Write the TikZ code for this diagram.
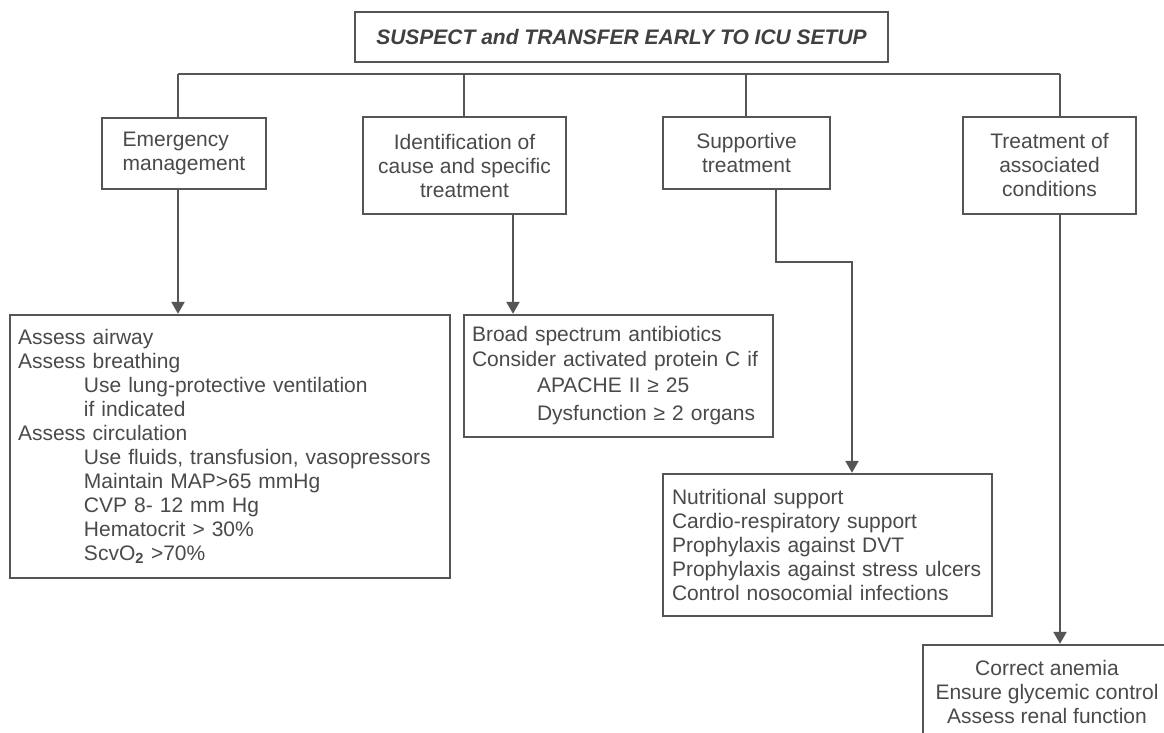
\documentclass[tikz,border=0pt]{standalone}
\usepackage{fontspec}
\setmainfont{Liberation Sans}
\usetikzlibrary{arrows.meta}
\definecolor{ln}{HTML}{555555}
\definecolor{tx}{HTML}{4A4A4A}
\begin{document}
\begin{tikzpicture}[x=1pt,y=-1pt,
  box/.style={draw=ln, line width=2.4pt, rectangle, inner sep=0pt, text=tx,
    font=\fontsize{21}{24}\selectfont},
  lbox/.style={box, align=left, inner xsep=8pt},
  cbox/.style={box, align=center},
  line/.style={draw=ln, line width=2.4pt},
  arr/.style={line, -{Triangle[length=12pt,width=13pt]}}]
\useasboundingbox (0,0) rectangle (1164,733);
\clip (0,0) rectangle (1164,733);
\fill[white] (0,0) rectangle (1164,733);

% title
\node[box, minimum width=533pt, minimum height=50pt, text=black!75,
  font=\fontsize{21}{24}\selectfont\bfseries\itshape] (top) at (621.5,37)
  {SUSPECT and TRANSFER EARLY TO ICU SETUP};

% second row
\node[box, align=left, minimum width=164pt, minimum height=71pt] (A) at (184,153.5)
  {Emergency\\management};
\node[cbox, minimum width=203pt, minimum height=97pt] (B) at (464.5,165.5)
  {Identification of\\cause and specific\\treatment};
\node[cbox, minimum width=167pt, minimum height=72pt] (C) at (746.5,153)
  {Supportive\\treatment};
\node[cbox, minimum width=173pt, minimum height=97pt] (D) at (1049.5,165.5)
  {Treatment of\\associated\\conditions};

% third row
\node[lbox, text width=424pt, minimum height=263pt] (E) at (230,446.5)
  {Assess airway\\
   Assess breathing\\
   \hspace*{66pt}Use lung-protective ventilation\\
   \hspace*{66pt}if indicated\\
   Assess circulation\\
   \hspace*{66pt}Use fluids, transfusion, vasopressors\\
   \hspace*{66pt}Maintain MAP>65 mmHg\\
   \hspace*{66pt}CVP 8- 12 mm Hg\\
   \hspace*{66pt}Hematocrit > 30\%\\
   \hspace*{66pt}ScvO\textsubscript{\textbf{2}} >70\%};
\node[lbox, text width=293pt, minimum height=122pt] (F) at (618.5,376)
  {Broad spectrum antibiotics\\[1pt]
   Consider activated protein C if\\[2pt]
   \hspace*{65pt}APACHE II ≥ 25\\[4pt]
   \hspace*{65pt}Dysfunction ≥ 2 organs};
\node[lbox, inner xsep=9pt, text width=311pt, minimum height=142pt] (S) at (827.5,545)
  {Nutritional support\\
   Cardio-respiratory support\\
   Prophylaxis against DVT\\
   Prophylaxis against stress ulcers\\
   Control nosocomial infections};
\node[cbox, minimum width=248pt, minimum height=94pt] (T) at (1047,692)
  {Correct anemia\\Ensure glycemic control\\Assess renal function};

% bus
\coordinate (b1) at (178,74);
\coordinate (b2) at (464,74);
\coordinate (b3) at (746,74);
\coordinate (b4) at (1060,74);
\draw[line] (b1) -- (b4);
\draw[line] (b1) -- (b1 |- A.north);
\draw[line] (b2) -- (b2 |- B.north);
\draw[line] (b3) -- (b3 |- C.north);
\draw[line] (b4) -- (b4 |- D.north);

% arrows
\coordinate (xb) at (513,0);
\coordinate (c1) at (776,262);
\coordinate (c2) at (852,262);
\draw[arr] (b1 |- A.south) -- (b1 |- E.north);
\draw[arr] (xb |- B.south) -- (xb |- F.north);
\draw[arr] (c1 |- C.south) -- (c1) -- (c2) -- (c2 |- S.north);
\draw[arr] (b4 |- D.south) -- (b4 |- T.north);
\end{tikzpicture}
\end{document}
